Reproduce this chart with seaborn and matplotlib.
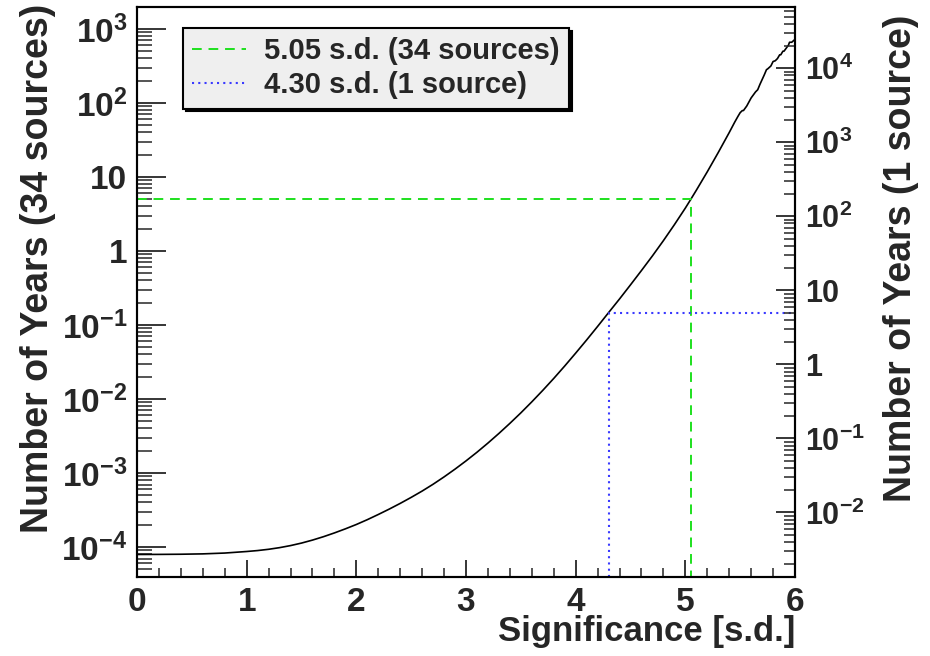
import numpy as np
import pandas as pd
import matplotlib
matplotlib.use("Agg")
import matplotlib.pyplot as plt
import matplotlib.ticker as mticker
import seaborn as sns

# ---------------- data ----------------
significance = [0.0, 0.2, 0.4, 0.6, 0.8, 1.0, 1.1, 1.2, 1.3, 1.4,
                1.5, 1.6, 1.7, 1.8, 1.9, 2.0, 2.1, 2.2, 2.3, 2.4,
                2.5, 2.6, 2.7, 2.8, 2.9, 3.0, 3.1, 3.2, 3.3, 3.4,
                3.5, 3.6, 3.7, 3.8, 3.9, 4.0, 4.1, 4.2, 4.3, 4.4,
                4.5, 4.6, 4.7, 4.8, 4.9, 5.0, 5.05, 5.1, 5.2, 5.3,
                5.4, 5.45, 5.48, 5.50, 5.52, 5.53, 5.56, 5.60, 5.64, 5.66,
                5.68, 5.72, 5.74, 5.75, 5.78, 5.80, 5.82, 5.84, 5.86, 5.87,
                5.89, 5.90, 5.92, 5.94, 5.95, 5.97, 6.00]
years_34 = [7.94e-5, 7.96e-5, 8.00e-5, 8.09e-5, 8.30e-5, 8.71e-5, 8.97e-5,
            9.33e-5, 9.82e-5, 1.047e-4, 1.132e-4, 1.242e-4, 1.380e-4,
            1.552e-4, 1.762e-4, 2.018e-4, 2.344e-4, 2.754e-4, 3.258e-4,
            3.89e-4, 4.69e-4, 5.71e-4, 7.06e-4, 8.87e-4, 1.130e-3, 1.459e-3,
            1.910e-3, 2.541e-3, 3.428e-3, 4.69e-3, 6.50e-3, 9.16e-3, 1.309e-2,
            1.897e-2, 2.793e-2, 4.17e-2, 6.28e-2, 9.57e-2, 0.147, 0.225,
            0.349, 0.545, 0.859, 1.380, 2.265, 3.80, 5.0, 6.61, 11.75, 21.4,
            39.8, 55.0, 66.0, 74.0, 79.0, 79.0, 91.0, 117.0, 141.0, 151.0,
            178.0, 240.0, 282.0, 288.0, 316.0, 363.0, 372.0, 398.0, 447.0,
            447.0, 501.0, 501.0, 550.0, 603.0, 661.0, 661.0, 724.0]

n_sources = 34
sig_34 = 5.05          # s.d. for 34 sources
sig_1 = 4.30           # s.d. for 1 source
years_thr = 5.0        # years at the thresholds
label_34 = "5.05 s.d. (34 sources)"
label_1 = "4.30 s.d. (1 source)"

x_ticks = [0, 1, 2, 3, 4, 5, 6]
y_lim_left = (3.94e-5, 1.98e3)

df = pd.DataFrame({"sig": significance, "years": years_34})

# ---------------- style ----------------
sns.set_style("ticks")
plt.rcParams["font.family"] = ["Liberation Sans", "DejaVu Sans"]
plt.rcParams["font.weight"] = "bold"
plt.rcParams["mathtext.fontset"] = "custom"
plt.rcParams["mathtext.rm"] = "Liberation Sans:bold"
plt.rcParams["mathtext.bf"] = "Liberation Sans:bold"
plt.rcParams["mathtext.it"] = "Liberation Sans:bold"

fig = plt.figure(figsize=(9.3, 6.56), dpi=100)
ax = fig.add_axes([137 / 930, 79 / 656, 658 / 930, 570 / 656])

sns.lineplot(data=df, x="sig", y="years", ax=ax, color="black",
             linewidth=1.2, estimator=None, sort=False)
ax.set_yscale("log")
ax.set_xlim(0, 6)
ax.set_ylim(*y_lim_left)

# threshold lines
g_line, = ax.plot([0, sig_34, sig_34], [years_thr, years_thr, y_lim_left[0]],
                  color="#1ee01e", linestyle=(0, (5, 3.5)), linewidth=1.4,
                  label=label_34)
b_line, = ax.plot([sig_1, sig_1, 6], [y_lim_left[0], years_thr / n_sources,
                                      years_thr / n_sources],
                  color="#3a3aff", linestyle=(0, (1, 2)), linewidth=1.5,
                  label=label_1)

# right axis
ax2 = ax.twinx()
ax2.set_yscale("log")
ax2.set_ylim(y_lim_left[0] * n_sources, y_lim_left[1] * n_sources)


def fmt(v, pos):
    e = int(round(np.log10(v)))
    if e == 0:
        return "1"
    if e == 1:
        return "10"
    return r"$\mathbf{10^{%d}}$" % e


for a in (ax, ax2):
    a.yaxis.set_major_locator(mticker.LogLocator(base=10, numticks=20))
    a.yaxis.set_minor_locator(mticker.LogLocator(base=10, subs=np.arange(2, 10),
                                                 numticks=200))
    a.yaxis.set_major_formatter(mticker.FuncFormatter(fmt))
    a.yaxis.set_minor_formatter(mticker.NullFormatter())

ax.set_xticks(x_ticks)
ax.xaxis.set_minor_locator(mticker.MultipleLocator(0.2))
ax.set_xticklabels([str(t) for t in x_ticks])

ax.tick_params(axis="y", which="major", direction="in", length=21, width=1.3,
               labelsize=24, pad=7, right=False, left=True)
ax.tick_params(axis="y", which="minor", direction="in", length=11, width=1.1,
               right=False, left=True)
ax.tick_params(axis="x", which="major", direction="in", length=12, width=1.3,
               labelsize=24, pad=7, top=False)
ax.tick_params(axis="x", which="minor", direction="in", length=6.5, width=1.1,
               top=False)
ax2.tick_params(axis="y", which="major", direction="in", length=14, width=1.3,
                labelsize=22, pad=7, left=False, right=True)
ax2.tick_params(axis="y", which="minor", direction="in", length=8, width=1.1,
                left=False, right=True)

for a in (ax, ax2):
    for s in a.spines.values():
        s.set_visible(True)
        s.set_linewidth(1.5)
        s.set_color("black")

ax.set_xlabel("Significance [s.d.]", fontsize=25, fontweight="bold",
              loc="right")
ax.xaxis.set_label_coords(1.0, -0.0665)
ax.set_ylabel("Number of Years (34 sources)", fontsize=27, fontweight="bold",
              loc="top")
ax.yaxis.set_label_coords(-0.123, 1.006)
ax2.set_ylabel("Number of Years (1 source)", fontsize=27, fontweight="bold",
               loc="top")
ax2.yaxis.set_label_coords(1.134, 0.986)

leg = ax.legend(handles=[g_line, b_line], loc="upper left",
                bbox_to_anchor=(0.070, 0.963), fontsize=21, frameon=True,
                fancybox=False, shadow={"color": "black", "alpha": 1.0},
                handlelength=1.85, handletextpad=0.6, borderpad=0.32,
                labelspacing=0.2, borderaxespad=0)
leg.get_frame().set_facecolor("#efefef")
leg.get_frame().set_edgecolor("black")
leg.get_frame().set_linewidth(1.5)
leg.get_frame().set_alpha(1.0)
for t in leg.get_texts():
    t.set_fontweight("bold")

fig.savefig("out.png", dpi=100)
